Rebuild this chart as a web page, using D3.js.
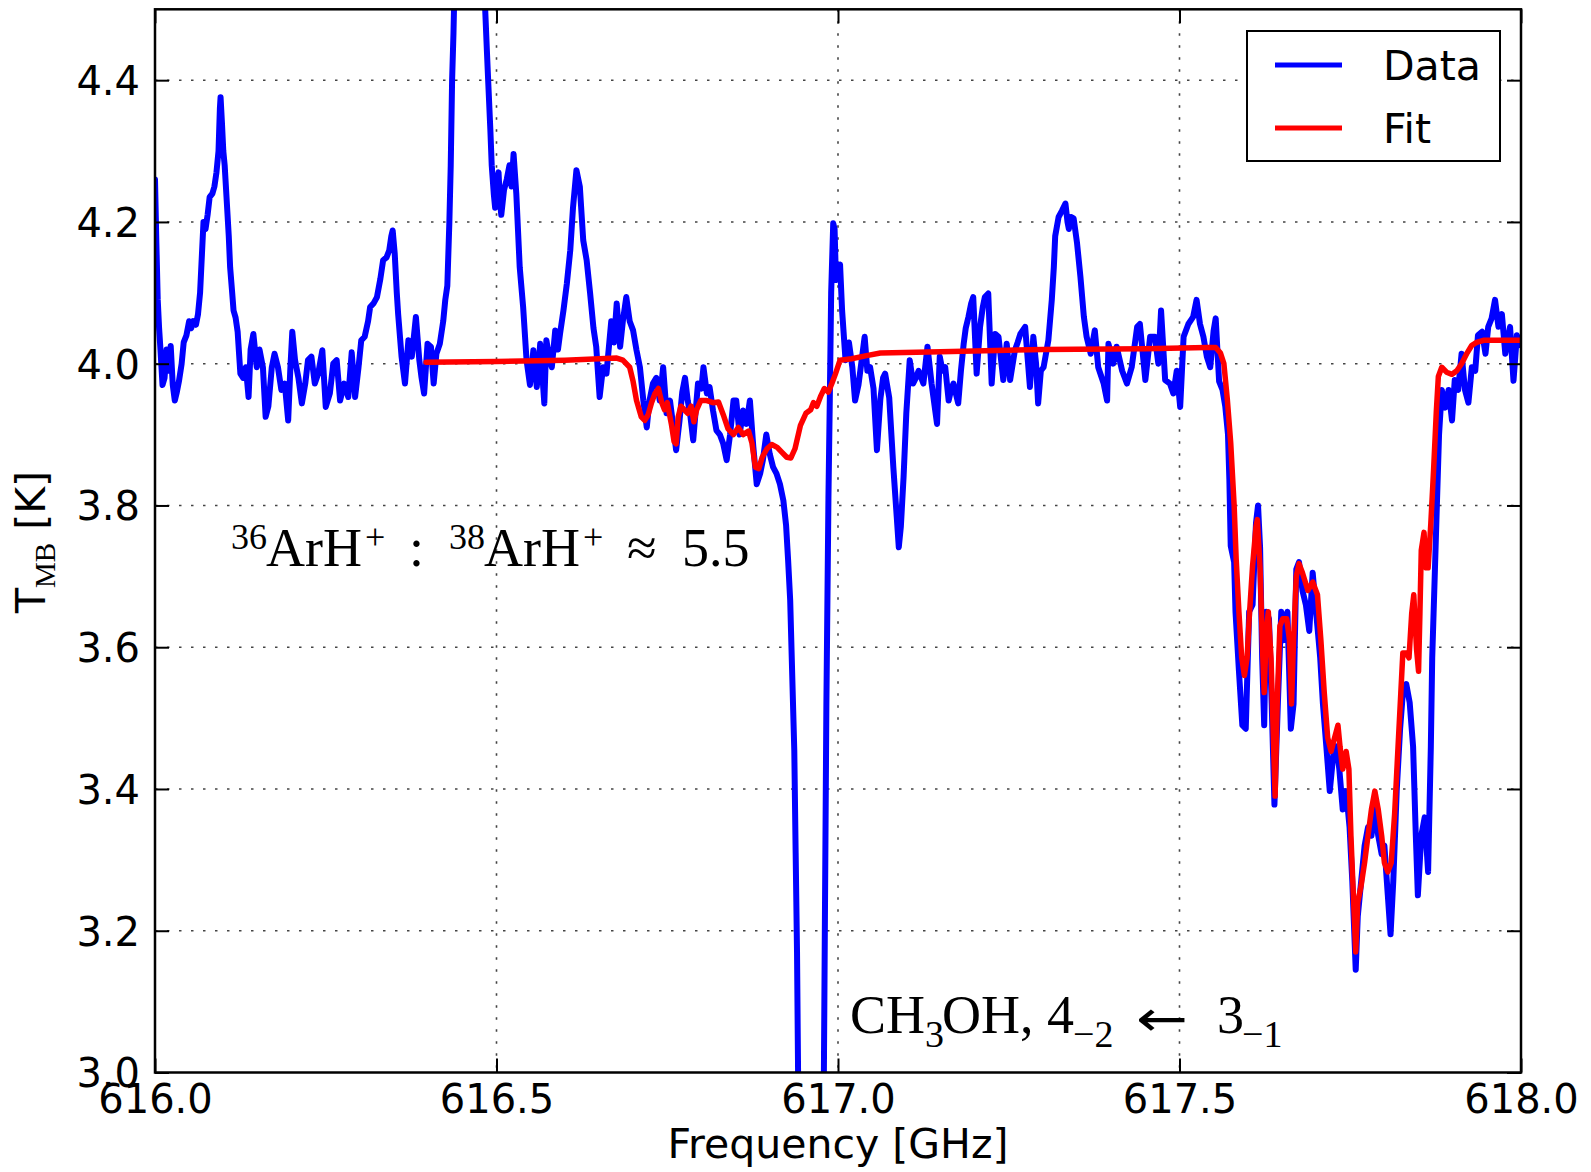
<!DOCTYPE html>
<html>
<head>
<meta charset="utf-8">
<script src="https://cdn.jsdelivr.net/npm/d3@7"></script>
<style>
  body { margin: 0; background: #fff; }
  svg { display: block; }
</style>
</head>
<body>
<svg id="chart" width="1591" height="1172"></svg>
<script>
// axis ticks
const freqTicks = [616.0, 616.5, 617.0, 617.5, 618.0];
const tempTicks = [3.0, 3.2, 3.4, 3.6, 3.8, 4.0, 4.2, 4.4];
const seriesNames = ['Data', 'Fit'];

const dataSpectrum = [
  [616.000, 4.26], [616.002, 4.17], [616.004, 4.09], [616.006, 4.05], [616.008, 4.02],
  [616.011, 3.97], [616.014, 3.98], [616.017, 4.02], [616.020, 3.99], [616.023, 4.025],
  [616.026, 3.97], [616.029, 3.948], [616.032, 3.96], [616.035, 3.975], [616.039, 4.00],
  [616.042, 4.03], [616.046, 4.04], [616.050, 4.06], [616.053, 4.05], [616.056, 4.06],
  [616.060, 4.055], [616.063, 4.07], [616.066, 4.10], [616.068, 4.14], [616.071, 4.20],
  [616.074, 4.19], [616.077, 4.21], [616.080, 4.235], [616.084, 4.24], [616.087, 4.25],
  [616.090, 4.27], [616.093, 4.30], [616.095, 4.36], [616.096, 4.376], [616.098, 4.34],
  [616.100, 4.30], [616.102, 4.28], [616.105, 4.23], [616.108, 4.18], [616.110, 4.136],
  [616.113, 4.10], [616.115, 4.075], [616.118, 4.065], [616.121, 4.045], [616.125, 3.986],
  [616.129, 3.98], [616.133, 3.995], [616.137, 3.953], [616.140, 4.02], [616.144, 4.042],
  [616.149, 3.995], [616.153, 4.02], [616.158, 3.995], [616.162, 3.925], [616.166, 3.94],
  [616.171, 3.995], [616.175, 4.014], [616.180, 3.995], [616.185, 3.963], [616.190, 3.972],
  [616.195, 3.92], [616.198, 3.99], [616.201, 4.045], [616.205, 4.005], [616.210, 3.98],
  [616.215, 3.944], [616.220, 3.972], [616.224, 4.005], [616.229, 4.01], [616.234, 3.972],
  [616.239, 3.986], [616.245, 4.019], [616.250, 3.939], [616.256, 3.958], [616.261, 4.0],
  [616.266, 4.005], [616.271, 3.948], [616.277, 3.972], [616.283, 3.953], [616.288, 4.016],
  [616.293, 3.953], [616.298, 3.995], [616.302, 4.033], [616.307, 4.038], [616.312, 4.06],
  [616.315, 4.08], [616.320, 4.085], [616.325, 4.094], [616.330, 4.12], [616.334, 4.146],
  [616.339, 4.15], [616.343, 4.16], [616.346, 4.18], [616.348, 4.188], [616.351, 4.155],
  [616.354, 4.10], [616.356, 4.07], [616.361, 4.01], [616.366, 3.972], [616.371, 4.033],
  [616.376, 4.01], [616.382, 4.066], [616.387, 4.005], [616.390, 3.982], [616.394, 3.958],
  [616.399, 4.028], [616.404, 4.024], [616.408, 3.972], [616.412, 4.014], [616.417, 4.028],
  [616.422, 4.06], [616.425, 4.09], [616.428, 4.11], [616.431, 4.20], [616.433, 4.28],
  [616.435, 4.40], [616.437, 4.466], [616.440, 4.60], [616.445, 4.75], [616.455, 4.85],
  [616.470, 4.80], [616.478, 4.65], [616.483, 4.51], [616.486, 4.44], [616.488, 4.395],
  [616.491, 4.33], [616.493, 4.28], [616.496, 4.24], [616.498, 4.22], [616.501, 4.26],
  [616.503, 4.27], [616.505, 4.23], [616.507, 4.21], [616.511, 4.245], [616.515, 4.26],
  [616.519, 4.28], [616.522, 4.25], [616.525, 4.296], [616.529, 4.24], [616.534, 4.136],
  [616.539, 4.08], [616.544, 4.005], [616.549, 3.97], [616.554, 4.019], [616.559, 3.967],
  [616.564, 4.028], [616.570, 3.944], [616.573, 4.033], [616.577, 4.01], [616.581, 3.995],
  [616.586, 4.047], [616.590, 4.02], [616.593, 4.042], [616.598, 4.075], [616.603, 4.113],
  [616.608, 4.16], [616.612, 4.22], [616.617, 4.273], [616.622, 4.25], [616.627, 4.174],
  [616.632, 4.146], [616.637, 4.10], [616.642, 4.05], [616.646, 4.024], [616.651, 3.953],
  [616.656, 3.995], [616.661, 3.986], [616.668, 4.06], [616.672, 4.03], [616.676, 4.085],
  [616.681, 4.024], [616.685, 4.06], [616.690, 4.094], [616.695, 4.06], [616.700, 4.047],
  [616.705, 4.019], [616.710, 3.995], [616.715, 3.948], [616.720, 3.91], [616.724, 3.948],
  [616.729, 3.972], [616.734, 3.98], [616.739, 3.948], [616.744, 3.995], [616.749, 3.93],
  [616.754, 3.948], [616.759, 3.91], [616.763, 3.878], [616.768, 3.92], [616.772, 3.96],
  [616.776, 3.98], [616.780, 3.948], [616.784, 3.925], [616.788, 3.892], [616.795, 3.972],
  [616.800, 3.965], [616.803, 3.995], [616.808, 3.958], [616.812, 3.967], [616.817, 3.934],
  [616.822, 3.906], [616.827, 3.90], [616.832, 3.887], [616.837, 3.864], [616.842, 3.90],
  [616.847, 3.948], [616.851, 3.948], [616.856, 3.90], [616.861, 3.934], [616.866, 3.915],
  [616.871, 3.948], [616.876, 3.883], [616.881, 3.83], [616.886, 3.845], [616.890, 3.864],
  [616.895, 3.90], [616.900, 3.873], [616.905, 3.854], [616.910, 3.845], [616.915, 3.83],
  [616.920, 3.807], [616.924, 3.772], [616.927, 3.722], [616.930, 3.666], [616.933, 3.56],
  [616.936, 3.454], [616.938, 3.31], [616.940, 3.17], [616.942, 2.95], [616.950, 2.6],
  [616.960, 2.5], [616.975, 2.7], [616.979, 2.95], [616.981, 3.24], [616.983, 3.52],
  [616.986, 3.81], [616.988, 3.95], [616.990, 4.10], [616.993, 4.198], [616.995, 4.19],
  [616.997, 4.118], [617.000, 4.12], [617.003, 4.14], [617.006, 4.075], [617.009, 4.033],
  [617.011, 4.005], [617.016, 4.03], [617.021, 3.995], [617.025, 3.948], [617.030, 3.97],
  [617.034, 4.0], [617.039, 4.038], [617.043, 3.99], [617.047, 3.995], [617.052, 3.965],
  [617.057, 3.878], [617.062, 3.95], [617.066, 3.98], [617.069, 3.986], [617.075, 3.952],
  [617.081, 3.854], [617.086, 3.784], [617.089, 3.741], [617.092, 3.77], [617.096, 3.84],
  [617.100, 3.93], [617.105, 4.005], [617.110, 3.972], [617.114, 3.98], [617.118, 3.99],
  [617.125, 3.972], [617.131, 4.024], [617.137, 3.972], [617.145, 3.915], [617.149, 4.01],
  [617.153, 3.99], [617.157, 3.995], [617.162, 3.948], [617.166, 3.965], [617.169, 3.972],
  [617.176, 3.944], [617.180, 3.99], [617.184, 4.028], [617.187, 4.05], [617.191, 4.066],
  [617.195, 4.085], [617.198, 4.094], [617.203, 3.986], [617.208, 4.052], [617.212, 4.08],
  [617.215, 4.094], [617.220, 4.099], [617.225, 3.972], [617.230, 4.042], [617.235, 4.038],
  [617.242, 3.977], [617.247, 4.028], [617.252, 3.977], [617.259, 4.019], [617.263, 4.03],
  [617.267, 4.042], [617.274, 4.052], [617.281, 3.967], [617.286, 4.038], [617.290, 4.0],
  [617.293, 3.944], [617.297, 3.99], [617.301, 3.995], [617.308, 4.033], [617.313, 4.09],
  [617.316, 4.136], [617.318, 4.18], [617.323, 4.207], [617.328, 4.216], [617.333, 4.226],
  [617.336, 4.20], [617.338, 4.19], [617.341, 4.207], [617.345, 4.205], [617.350, 4.17],
  [617.355, 4.122], [617.360, 4.066], [617.364, 4.038], [617.370, 4.014], [617.376, 4.047],
  [617.381, 3.995], [617.389, 3.972], [617.394, 3.948], [617.396, 4.028], [617.403, 4.0],
  [617.408, 4.024], [617.416, 3.99], [617.423, 3.972], [617.430, 3.995], [617.438, 4.052],
  [617.442, 4.056], [617.450, 3.977], [617.457, 4.038], [617.464, 4.038], [617.469, 4.0],
  [617.473, 4.075], [617.479, 3.977], [617.486, 3.972], [617.491, 3.958], [617.496, 3.99],
  [617.501, 3.939], [617.506, 4.038], [617.513, 4.056], [617.520, 4.066], [617.525, 4.09],
  [617.530, 4.056], [617.535, 4.038], [617.540, 4.01], [617.545, 3.995], [617.550, 4.047],
  [617.553, 4.064], [617.558, 3.975], [617.563, 3.963], [617.567, 3.94], [617.571, 3.90],
  [617.573, 3.837], [617.575, 3.743], [617.580, 3.72], [617.582, 3.65], [617.587, 3.567],
  [617.592, 3.49], [617.597, 3.485], [617.602, 3.65], [617.607, 3.66], [617.612, 3.775],
  [617.615, 3.80], [617.618, 3.74], [617.621, 3.585], [617.624, 3.49], [617.627, 3.65],
  [617.631, 3.64], [617.635, 3.52], [617.639, 3.378], [617.644, 3.52], [617.649, 3.65],
  [617.653, 3.61], [617.658, 3.65], [617.663, 3.485], [617.667, 3.52], [617.671, 3.71],
  [617.675, 3.72], [617.680, 3.68], [617.685, 3.66], [617.690, 3.623], [617.695, 3.705],
  [617.700, 3.65], [617.706, 3.585], [617.710, 3.52], [617.715, 3.46], [617.720, 3.397],
  [617.725, 3.447], [617.730, 3.46], [617.734, 3.428], [617.739, 3.371], [617.744, 3.397],
  [617.749, 3.346], [617.753, 3.27], [617.756, 3.195], [617.758, 3.145], [617.761, 3.22],
  [617.766, 3.27], [617.771, 3.32], [617.776, 3.346], [617.781, 3.334], [617.786, 3.371],
  [617.791, 3.334], [617.796, 3.308], [617.800, 3.32], [617.805, 3.25], [617.809, 3.195],
  [617.813, 3.27], [617.818, 3.397], [617.823, 3.485], [617.827, 3.535], [617.832, 3.548],
  [617.837, 3.522], [617.842, 3.46], [617.846, 3.334], [617.849, 3.25], [617.854, 3.334],
  [617.859, 3.36], [617.864, 3.283], [617.868, 3.46], [617.870, 3.585], [617.874, 3.71],
  [617.877, 3.806], [617.880, 3.90], [617.884, 3.963], [617.889, 3.938], [617.894, 3.963],
  [617.899, 3.92], [617.903, 3.977], [617.908, 3.963], [617.913, 4.014], [617.918, 3.963],
  [617.923, 3.945], [617.928, 3.995], [617.933, 3.99], [617.937, 4.04], [617.943, 4.045],
  [617.948, 4.014], [617.952, 4.052], [617.957, 4.064], [617.962, 4.09], [617.967, 4.052],
  [617.972, 4.07], [617.977, 4.014], [617.984, 4.052], [617.989, 3.976], [617.994, 4.04],
  [618.000, 4.026]
];

// model fit, [frequency GHz, T_MB K]
const fitSpectrum = [
  [616.397, 4.002], [616.500, 4.003], [616.600, 4.005], [616.676, 4.008], [616.685, 4.005],
  [616.695, 3.995], [616.700, 3.975], [616.705, 3.948], [616.712, 3.925], [616.717, 3.92],
  [616.722, 3.928], [616.727, 3.945], [616.732, 3.958], [616.737, 3.965], [616.742, 3.945],
  [616.746, 3.935], [616.750, 3.945], [616.753, 3.93], [616.756, 3.915], [616.760, 3.89],
  [616.763, 3.887], [616.766, 3.925], [616.770, 3.94], [616.775, 3.935], [616.780, 3.93],
  [616.785, 3.94], [616.789, 3.918], [616.793, 3.935], [616.799, 3.948], [616.808, 3.948],
  [616.817, 3.945], [616.825, 3.946], [616.832, 3.928], [616.839, 3.908], [616.847, 3.90],
  [616.854, 3.91], [616.861, 3.90], [616.869, 3.905], [616.874, 3.888], [616.879, 3.854],
  [616.884, 3.852], [616.889, 3.868], [616.896, 3.88], [616.903, 3.886], [616.911, 3.882],
  [616.918, 3.875], [616.925, 3.868], [616.931, 3.867], [616.937, 3.88], [616.945, 3.913],
  [616.953, 3.93], [616.960, 3.935], [616.964, 3.945], [616.969, 3.94], [616.975, 3.955],
  [616.980, 3.965], [616.986, 3.96], [616.991, 3.972], [616.996, 3.985], [617.003, 4.005],
  [617.020, 4.007], [617.040, 4.011], [617.062, 4.015], [617.150, 4.017], [617.300, 4.020],
  [617.450, 4.021], [617.540, 4.023], [617.553, 4.023], [617.560, 4.015], [617.565, 4.0],
  [617.570, 3.95], [617.575, 3.888], [617.580, 3.80], [617.583, 3.724], [617.587, 3.65],
  [617.591, 3.586], [617.595, 3.56], [617.599, 3.585], [617.602, 3.64], [617.607, 3.715],
  [617.612, 3.77], [617.614, 3.78], [617.618, 3.71], [617.622, 3.586], [617.624, 3.536],
  [617.627, 3.62], [617.630, 3.65], [617.634, 3.585], [617.636, 3.52], [617.640, 3.39],
  [617.643, 3.52], [617.647, 3.63], [617.651, 3.64], [617.657, 3.64], [617.661, 3.61],
  [617.664, 3.52], [617.667, 3.61], [617.671, 3.70], [617.675, 3.718], [617.680, 3.705],
  [617.688, 3.68], [617.695, 3.692], [617.702, 3.674], [617.707, 3.61], [617.712, 3.535],
  [617.717, 3.472], [617.722, 3.453], [617.727, 3.472], [617.732, 3.49], [617.735, 3.46],
  [617.739, 3.428], [617.744, 3.453], [617.748, 3.428], [617.751, 3.334], [617.755, 3.24],
  [617.758, 3.17], [617.761, 3.24], [617.766, 3.264], [617.771, 3.296], [617.776, 3.334],
  [617.781, 3.371], [617.786, 3.397], [617.791, 3.371], [617.796, 3.334], [617.800, 3.296],
  [617.805, 3.283], [617.810, 3.296], [617.815, 3.365], [617.820, 3.46], [617.824, 3.535],
  [617.827, 3.592], [617.832, 3.592], [617.836, 3.585], [617.840, 3.648], [617.843, 3.674],
  [617.847, 3.598], [617.850, 3.566], [617.852, 3.648], [617.854, 3.737], [617.858, 3.762],
  [617.861, 3.712], [617.864, 3.712], [617.868, 3.775], [617.872, 3.85], [617.876, 3.932],
  [617.879, 3.982], [617.884, 3.995], [617.891, 3.988], [617.899, 3.985], [617.906, 3.99],
  [617.913, 4.0], [617.921, 4.015], [617.928, 4.026], [617.935, 4.03], [617.945, 4.033],
  [618.000, 4.033]
];

const colors = { Data: '#0000ff', Fit: '#ff0000' };

const svg = d3.select('#chart');
const plotLeft = 155, plotRight = 1521, plotTop = 9.3, plotBottom = 1072.5;
const sans = 'DejaVu Sans, Verdana, sans-serif';
const serif = 'Liberation Serif, Times New Roman, serif';

const x = d3.scaleLinear().domain([616.0, 618.0]).range([plotLeft, plotRight]);
const y = d3.scaleLinear().domain([3.0, 4.5]).range([plotBottom, plotTop]);

svg.append('rect').attr('width', 1591).attr('height', 1172).attr('fill', '#fff');

svg.append('clipPath').attr('id', 'plotclip')
  .append('rect').attr('x', plotLeft).attr('y', plotTop)
  .attr('width', plotRight - plotLeft).attr('height', plotBottom - plotTop);

// dotted grid
const grid = svg.append('g').attr('class', 'grid');
grid.selectAll('line.gx').data(freqTicks.slice(1, -1)).enter().append('line')
  .attr('class', 'gx')
  .attr('x1', d => x(d)).attr('x2', d => x(d))
  .attr('y1', plotTop).attr('y2', plotBottom);
grid.selectAll('line.gy').data(tempTicks.slice(1)).enter().append('line')
  .attr('class', 'gy')
  .attr('x1', plotLeft).attr('x2', plotRight)
  .attr('y1', d => y(d)).attr('y2', d => y(d));
grid.selectAll('line')
  .attr('stroke', '#444').attr('stroke-width', 1.6)
  .attr('stroke-dasharray', '2.5,9.5');

// spectra
const line = d3.line().x(d => x(d[0])).y(d => y(d[1]));
const plot = svg.append('g').attr('clip-path', 'url(#plotclip)');
plot.append('path').datum(dataSpectrum)
  .attr('d', line).attr('fill', 'none')
  .attr('stroke', colors.Data).attr('stroke-width', 6)
  .attr('stroke-linejoin', 'round').attr('stroke-linecap', 'round');
plot.append('path').datum(fitSpectrum)
  .attr('d', line).attr('fill', 'none')
  .attr('stroke', colors.Fit).attr('stroke-width', 5.5)
  .attr('stroke-linejoin', 'round').attr('stroke-linecap', 'round');

// axes with inward ticks on all four sides
const tick = 14;
const xAxis = svg.append('g').attr('transform', `translate(0,${plotBottom})`)
  .call(d3.axisBottom(x).tickValues(freqTicks).tickSize(-tick).tickFormat(d3.format('.1f')));
xAxis.selectAll('text').attr('y', 40.5).attr('dy', null)
  .style('font-family', sans).style('font-size', '40px').attr('fill', '#000');

const yAxis = svg.append('g').attr('transform', `translate(${plotLeft},0)`)
  .call(d3.axisLeft(y).tickValues(tempTicks).tickSize(-tick).tickFormat(d3.format('.1f')));
yAxis.selectAll('text').attr('x', -15).attr('dy', '0.36em')
  .style('font-family', sans).style('font-size', '40px').attr('fill', '#000');

svg.append('g').attr('transform', `translate(0,${plotTop})`)
  .call(d3.axisTop(x).tickValues(freqTicks).tickSize(-tick).tickFormat(''));
svg.append('g').attr('transform', `translate(${plotRight},0)`)
  .call(d3.axisRight(y).tickValues(tempTicks).tickSize(-tick).tickFormat(''));

svg.selectAll('.domain').remove();
svg.selectAll('.tick line').attr('stroke', '#000').attr('stroke-width', 2);

svg.append('rect').attr('x', plotLeft).attr('y', plotTop)
  .attr('width', plotRight - plotLeft).attr('height', plotBottom - plotTop)
  .attr('fill', 'none').attr('stroke', '#000').attr('stroke-width', 2.5);

// axis labels
svg.append('text').attr('x', (plotLeft + plotRight) / 2).attr('y', 1158)
  .attr('text-anchor', 'middle')
  .style('font-family', sans).style('font-size', '41px')
  .text('Frequency [GHz]');

const yl = svg.append('text')
  .attr('transform', 'translate(45,542) rotate(-90)')
  .attr('text-anchor', 'middle')
  .style('font-family', sans).style('font-size', '41px');
yl.append('tspan').text('T');
yl.append('tspan').text('MB').attr('dy', 10)
  .style('font-family', serif).style('font-size', '29px');
yl.append('tspan').text(' [K]').attr('dy', -10);

// legend
const legend = svg.append('g');
legend.append('rect').attr('x', 1247).attr('y', 31)
  .attr('width', 253).attr('height', 130)
  .attr('fill', '#fff').attr('stroke', '#000').attr('stroke-width', 2);
seriesNames.forEach((name, i) => {
  const ly = 65 + i * 63;
  legend.append('line').attr('x1', 1275).attr('x2', 1342)
    .attr('y1', ly).attr('y2', ly)
    .attr('stroke', colors[name]).attr('stroke-width', 5);
  legend.append('text').attr('x', 1383).attr('y', ly + 15)
    .style('font-family', sans).style('font-size', '41px')
    .text(name);
});

// annotations (serif, with super/subscripts)
function annotate(pieces, baseline) {
  const g = svg.append('g').style('font-family', serif);
  pieces.forEach(p => {
    const t = g.append('text').attr('x', p[1]).attr('y', baseline + (p[2] || 0))
      .style('font-size', (p[3] || 54) + 'px').text(p[0]);
    if (p[4]) t.style('font-family', p[4].font).attr('textLength', p[4].len)
      .attr('lengthAdjust', 'spacingAndGlyphs');
  });
}
annotate([
  ['36', 231, -17, 36], ['ArH', 266], ['+', 365, -17, 36], [':', 409],
  ['38', 449, -17, 36], ['ArH', 484], ['+', 583, -17, 36],
  ['\u2248', 627], ['5.5', 682]
], 566);
annotate([
  ['CH', 850], ['3', 925, 14, 38], ['OH,', 942], ['4', 1047],
  ['\u22122', 1073, 14, 38], ['\u2190', 1136, 3, 50, { font: sans, len: 52 }],
  ['3', 1217], ['\u22121', 1242, 14, 38]
], 1033);
</script>
</body>
</html>
